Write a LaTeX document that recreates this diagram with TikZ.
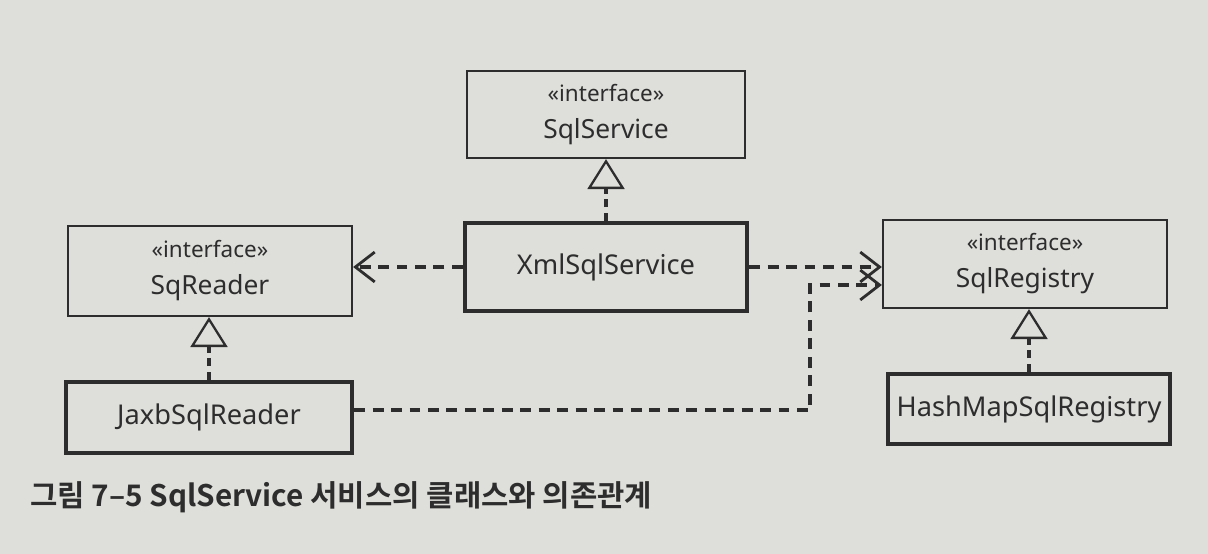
\documentclass[tikz,border=0pt]{standalone}
\usepackage{fontspec}
\setmainfont{Noto Sans}
\newfontfamily\cjkb[BoldFont={Noto Sans CJK KR Bold}]{Noto Sans CJK KR}
\usetikzlibrary{arrows.meta}
\definecolor{paper}{RGB}{222,222,218}
\definecolor{ink}{RGB}{45,45,45}
\tikzset{
  iface/.style={draw=ink, line width=1.3pt, fill=paper, align=center, text=ink, font=\fontsize{15}{21}\selectfont, inner sep=0pt},
  klass/.style={draw=ink, line width=2.6pt, fill=paper, align=center, text=ink, font=\fontsize{15.5}{18}\selectfont, inner sep=0pt},
  dep/.style={draw=ink, line width=2pt, dash pattern=on 6.2pt off 4.3pt, -{Straight Barb[length=11pt,width=17pt,line width=1.6pt]}},
  real/.style={draw=ink, line width=2pt, dash pattern=on 4.5pt off 3.2pt, -{Triangle[open,length=17pt,width=21pt,line width=1.3pt,fill=paper]}}
}
\newcommand{\stero}{{\fontsize{12.8}{14}\selectfont «interface»}}
\begin{document}
\begin{tikzpicture}[x=0.02cm,y=-0.02cm]
\fill[paper] (0,0) rectangle (1208,554);
\useasboundingbox (0,0) rectangle (1208,554);
\node[iface, minimum width=5.56cm, minimum height=1.74cm] (svc) at (606,114.5) {\stero\\SqlService};
\node[klass, minimum width=5.64cm, minimum height=1.76cm] (xml) at (606,267) {XmlSqlService};
\node[iface, minimum width=5.68cm, minimum height=1.80cm] (rdr) at (210,271) {\stero\\SqReader};
\node[klass, minimum width=5.72cm, minimum height=1.42cm] (jaxb) at (209,417.5) {JaxbSqlReader};
\node[iface, minimum width=5.68cm, minimum height=1.76cm] (reg) at (1025,264) {\stero\\SqlRegistry};
\node[klass, minimum width=5.64cm, minimum height=1.40cm] (hash) at (1029,409) {HashMapSqlRegistry};
\coordinate (bend) at (810,410);
\draw[dep] (xml.west) -- (xml.west -| rdr.east);
\draw[dep] (xml.east) -- (xml.east -| reg.west);
\draw[dep] (jaxb.east |- bend) -- (bend) |- ([yshift=-0.42cm]reg.west);
\draw[real] (xml.north) -- (svc.south);
\draw[real] (jaxb.north) -- (jaxb.north |- rdr.south);
\draw[real] (hash.north) -- (hash.north |- reg.south);
\node[anchor=west, inner sep=0pt, text=ink, font=\cjkb\bfseries\fontsize{16.9}{18}\selectfont] (cap) at (30,497) {그림 7–5 SqlService 서비스의 클래스와 의존관계};
\end{tikzpicture}
\end{document}
